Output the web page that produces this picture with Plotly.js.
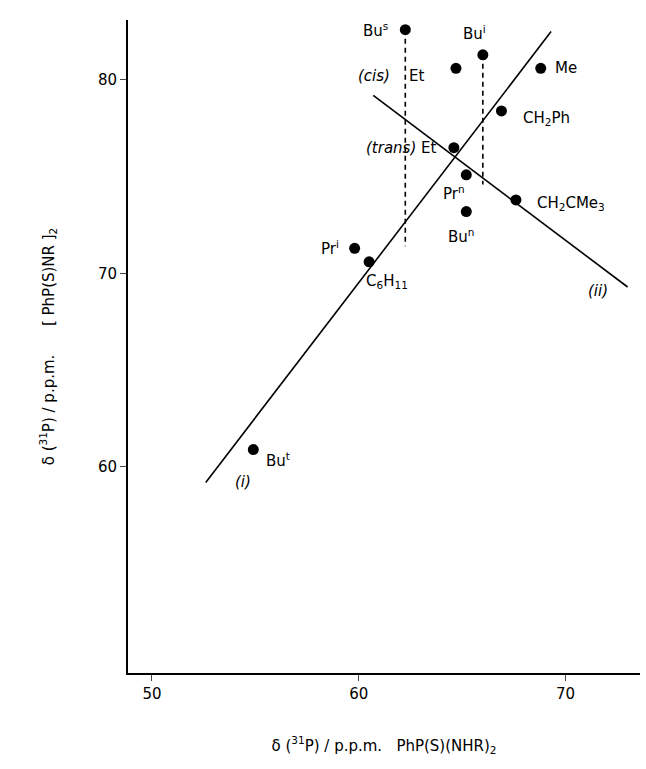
<!DOCTYPE html>
<html><head><meta charset="utf-8">
<script src="https://cdn.plot.ly/plotly-3.0.1.min.js"></script>
</head><body style="margin:0">
<div id="myDiv"></div>
<script>
// compound labels and shifts
const names = ['Bu<sup>s</sup>', 'Et (cis)', 'Bu<sup>i</sup>', 'Me', 'CH<sub>2</sub>Ph', 'Et (trans)', 'Pr<sup>n</sup>', 'Bu<sup>n</sup>', 'CH<sub>2</sub>CMe<sub>3</sub>', 'Pr<sup>i</sup>', 'C<sub>6</sub>H<sub>11</sub>', 'Bu<sup>t</sup>'];
const xVals = [62.25, 64.7, 66.0, 68.8, 66.9, 64.6, 65.2, 65.2, 67.6, 59.8, 60.5, 54.9];
const yVals = [82.6, 80.6, 81.3, 80.6, 78.4, 76.5, 75.1, 73.2, 73.8, 71.3, 70.6, 60.9];
const lineIx = [52.6, 69.3], lineIy = [59.2, 82.5];
const lineIIx = [60.7, 73.0], lineIIy = [79.2, 69.3];
const dashBusX = [62.25, 62.25], dashBusY = [82.6, 71.4];
const dashBuiX = [66.0, 66.0], dashBuiY = [81.3, 74.6];

// label text and where to put it relative to the point
const labels = [
  {t: 'Bu<sup>s</sup>', x: 62.25, y: 82.6, ax: -30, ay: 0},
  {t: '<i>(cis)</i>    Et', x: 64.7, y: 80.6, ax: -65, ay: 8},
  {t: 'Bu<sup>i</sup>', x: 66.0, y: 81.3, ax: -8, ay: -22},
  {t: 'Me', x: 68.8, y: 80.6, ax: 25, ay: 0},
  {t: 'CH<sub>2</sub>Ph', x: 66.9, y: 78.4, ax: 45, ay: 8},
  {t: '<i>(trans)</i> Et', x: 64.6, y: 76.5, ax: -52, ay: 0},
  {t: 'Pr<sup>n</sup>', x: 65.2, y: 75.1, ax: -12, ay: 18},
  {t: 'Bu<sup>n</sup>', x: 65.2, y: 73.2, ax: -5, ay: 24},
  {t: 'CH<sub>2</sub>CMe<sub>3</sub>', x: 67.6, y: 73.8, ax: 55, ay: 4},
  {t: 'Pr<sup>i</sup>', x: 59.8, y: 71.3, ax: -25, ay: 0},
  {t: 'C<sub>6</sub>H<sub>11</sub>', x: 60.5, y: 70.6, ax: 18, ay: 20},
  {t: 'Bu<sup>t</sup>', x: 54.9, y: 60.9, ax: 25, ay: 10},
  {t: '<i>(i)</i>', x: 54.9, y: 60.9, ax: -10, ay: 32},
  {t: '<i>(ii)</i>', x: 73.0, y: 69.3, ax: -30, ay: 4}
];

const font = {family: 'DejaVu Sans', size: 15, color: 'black'};
const data = [
  {x: lineIx, y: lineIy, mode: 'lines', line: {color: 'black', width: 1.6}},
  {x: lineIIx, y: lineIIy, mode: 'lines', line: {color: 'black', width: 1.6}},
  {x: dashBusX, y: dashBusY, mode: 'lines', line: {color: 'black', width: 1.6, dash: '5px,4px'}},
  {x: dashBuiX, y: dashBuiY, mode: 'lines', line: {color: 'black', width: 1.6, dash: '5px,4px'}},
  {x: xVals, y: yVals, text: names, mode: 'markers', marker: {color: 'black', size: 11}}
];

const layout = {
  width: 646, height: 769, showlegend: false,
  paper_bgcolor: 'white', plot_bgcolor: 'white',
  margin: {l: 128, r: 6, t: 20, b: 96},
  font: font,
  xaxis: {range: [48.84, 73.6], tickvals: [50, 60, 70], ticks: 'outside', ticklen: 6,
    showgrid: false, zeroline: false, showline: true, linecolor: 'black', linewidth: 2,
    title: {text: 'δ (<sup>31</sup>P) / p.p.m.   PhP(S)(NHR)<sub>2</sub>', standoff: 38, font: font}},
  yaxis: {range: [49.35, 83.1], tickvals: [60, 70, 80], ticks: 'outside', ticklen: 6,
    showgrid: false, zeroline: false, showline: true, linecolor: 'black', linewidth: 2,
    title: {text: 'δ (<sup>31</sup>P) / p.p.m.      [ PhP(S)NR ]<sub>2</sub>', standoff: 40, font: font}},
  annotations: labels.map(l => ({text: l.t, x: l.x, y: l.y, ax: l.ax, ay: l.ay,
    showarrow: true, arrowcolor: 'rgba(0,0,0,0)', font: font}))
};

Plotly.newPlot('myDiv', data, layout, {displayModeBar: false});
</script>
</body></html>
